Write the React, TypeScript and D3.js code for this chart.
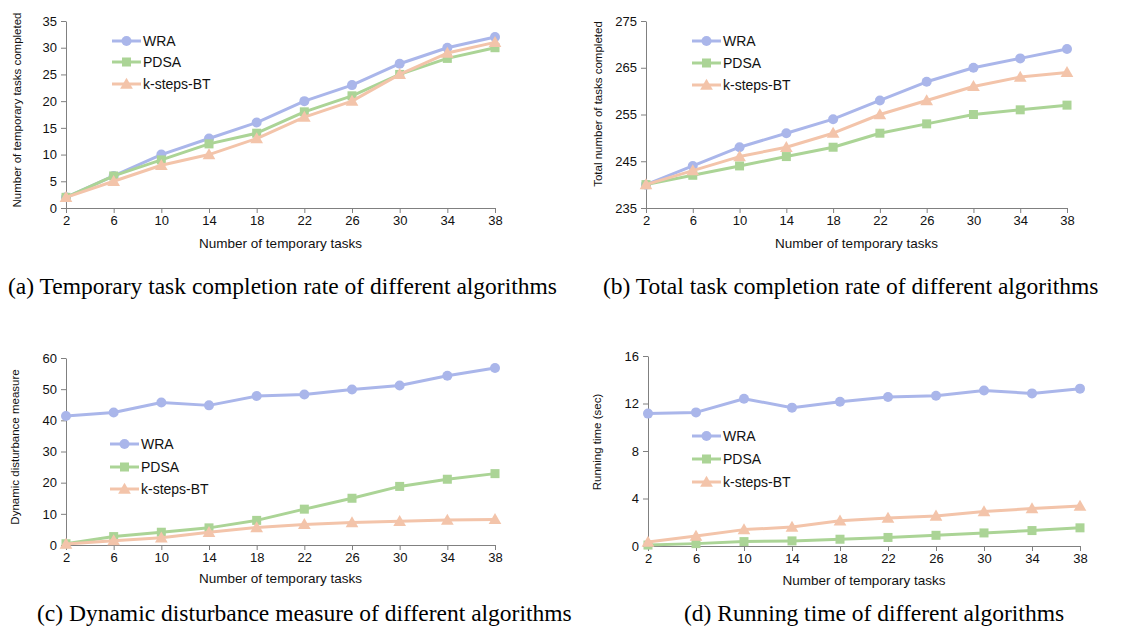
import React, { useEffect, useRef } from "react";
import * as d3 from "d3";

// x categories shared by all four panels
const taskCounts = [2, 6, 10, 14, 18, 22, 26, 30, 34, 38];
const algorithms = ["WRA", "PDSA", "k-steps-BT"];

// (a) temporary tasks completed
const tempDoneWRA = [2, 6, 10, 13, 16, 20, 23, 27, 30, 32];
const tempDonePDSA = [2, 6, 9, 12, 14, 18, 21, 25, 28, 30];
const tempDoneKBT = [2, 5, 8, 10, 13, 17, 20, 25, 29, 31];

// (b) total tasks completed
const totalDoneWRA = [240, 244, 248, 251, 254, 258, 262, 265, 267, 269];
const totalDonePDSA = [240, 242, 244, 246, 248, 251, 253, 255, 256, 257];
const totalDoneKBT = [240, 243, 246, 248, 251, 255, 258, 261, 263, 264];

// (c) dynamic disturbance measure
const disturbWRA = [41.4, 42.5, 45.7, 44.8, 47.8, 48.3, 49.9, 51.2, 54.3, 56.8];
const disturbPDSA = [0.4, 2.7, 4.1, 5.5, 7.9, 11.5, 15.0, 18.8, 21.1, 22.9];
const disturbKBT = [0.3, 1.4, 2.3, 4.1, 5.6, 6.6, 7.2, 7.6, 8.0, 8.2];

// (d) running time (sec)
const runWRA = [11.15, 11.25, 12.4, 11.65, 12.15, 12.55, 12.65, 13.1, 12.85, 13.25];
const runPDSA = [0.08, 0.2, 0.37, 0.43, 0.57, 0.72, 0.9, 1.1, 1.3, 1.53];
const runKBT = [0.33, 0.84, 1.38, 1.6, 2.12, 2.36, 2.53, 2.9, 3.15, 3.36];

const captions = [
  "(a) Temporary task completion rate of different algorithms",
  "(b) Total task completion rate of different algorithms",
  "(c) Dynamic disturbance measure of different algorithms",
  "(d) Running time of different algorithms",
];
const yTitles = [
  "Number of temporary tasks completed",
  "Total number of tasks completed",
  "Dynamic disturbance measure",
  "Running time (sec)",
];
const xTitle = "Number of temporary tasks";

const colors = { WRA: "#aab6ea", PDSA: "#abd496", "k-steps-BT": "#f3c4aa" };
const sans = "'Liberation Sans', Arial, sans-serif";
const serif = "'Liberation Serif', 'Times New Roman', serif";

const App = () => {
  const svgRef = useRef<SVGSVGElement>(null);

  useEffect(() => {
    const svg = d3.select(svgRef.current);
    svg.selectAll("*").remove();

    const panels = [
      {
        series: [tempDoneWRA, tempDonePDSA, tempDoneKBT],
        x: [66, 495], y: [208, 21], domain: [0, 35], step: 5,
        legend: { x: 112, rows: [41, 62, 84] },
        yTitle: { x: 17, y: 110 }, xTitleY: 248, caption: { x: 8, y: 294 },
      },
      {
        series: [totalDoneWRA, totalDonePDSA, totalDoneKBT],
        x: [646, 1067], y: [208, 21], domain: [235, 275], step: 10,
        legend: { x: 692, rows: [41, 63, 85] },
        yTitle: { x: 598, y: 104 }, xTitleY: 248, caption: { x: 603, y: 294 },
      },
      {
        series: [disturbWRA, disturbPDSA, disturbKBT],
        x: [66, 495], y: [545, 358], domain: [0, 60], step: 10,
        legend: { x: 110, rows: [444, 467, 489] },
        yTitle: { x: 15, y: 447 }, xTitleY: 583, caption: { x: 37, y: 621 },
      },
      {
        series: [runWRA, runPDSA, runKBT],
        x: [648, 1080], y: [546, 356], domain: [0, 16], step: 4,
        legend: { x: 692, rows: [436, 459, 482] },
        yTitle: { x: 597, y: 442 }, xTitleY: 585, caption: { x: 684, y: 621 },
      },
    ];

    const drawMarker = (g, name, cx, cy) => {
      const c = colors[name];
      if (name === "WRA") {
        g.append("circle").attr("cx", cx).attr("cy", cy).attr("r", 5).attr("fill", c);
      } else if (name === "PDSA") {
        g.append("rect").attr("x", cx - 4.5).attr("y", cy - 4.5)
          .attr("width", 9).attr("height", 9).attr("fill", c);
      } else {
        g.append("path")
          .attr("d", d3.symbol(d3.symbolTriangle, 70)())
          .attr("transform", `translate(${cx},${cy + 1})`)
          .attr("fill", c);
      }
    };

    panels.forEach((p, pi) => {
      const g = svg.append("g");
      const xScale = d3.scalePoint().domain(taskCounts.map(String)).range(p.x).padding(0);
      const yScale = d3.scaleLinear().domain(p.domain).range(p.y);
      const yTicks = d3.range(p.domain[0], p.domain[1] + 0.001, p.step);

      // axes
      const yAxis = g.append("g")
        .attr("transform", `translate(${p.x[0]},0)`)
        .call(d3.axisLeft(yScale).tickValues(yTicks).tickSize(5).tickPadding(4).tickSizeOuter(0));
      const xAxis = g.append("g")
        .attr("transform", `translate(0,${p.y[0]})`)
        .call(d3.axisBottom(xScale).tickSize(5).tickPadding(3).tickSizeOuter(0));
      [yAxis, xAxis].forEach((ax) => {
        ax.select(".domain").attr("stroke", "#808080");
        ax.selectAll(".tick line").attr("stroke", "#808080");
        ax.selectAll("text").attr("fill", "#111").style("font-family", sans).style("font-size", "13px");
      });

      // lines + markers
      const line = d3.line<number>()
        .x((d, i) => xScale(String(taskCounts[i])))
        .y((d) => yScale(d));
      p.series.forEach((vals, si) => {
        const name = algorithms[si];
        g.append("path").attr("d", line(vals)).attr("fill", "none")
          .attr("stroke", colors[name]).attr("stroke-width", 3).attr("stroke-linejoin", "round");
        vals.forEach((v, i) => drawMarker(g, name, xScale(String(taskCounts[i])), yScale(v)));
      });

      // legend
      algorithms.forEach((name, i) => {
        const ly = p.legend.rows[i];
        g.append("line").attr("x1", p.legend.x).attr("x2", p.legend.x + 29)
          .attr("y1", ly).attr("y2", ly).attr("stroke", colors[name]).attr("stroke-width", 3);
        drawMarker(g, name, p.legend.x + 14.5, ly);
        g.append("text").attr("x", p.legend.x + 31).attr("y", ly + 5)
          .style("font-family", sans).style("font-size", "14px").attr("fill", "#111").text(name);
      });

      // titles
      g.append("text").attr("x", (p.x[0] + p.x[1]) / 2).attr("y", p.xTitleY)
        .attr("text-anchor", "middle").style("font-family", sans).style("font-size", "13.5px")
        .attr("fill", "#111").text(xTitle);
      g.append("text")
        .attr("transform", `translate(${p.yTitle.x},${p.yTitle.y}) rotate(-90)`)
        .attr("text-anchor", "middle").attr("dy", "0.35em")
        .style("font-family", sans).style("font-size", "11.5px").attr("fill", "#111")
        .text(yTitles[pi]);

      g.append("text").attr("x", p.caption.x).attr("y", p.caption.y)
        .style("font-family", serif).style("font-size", "23.5px").attr("fill", "#000")
        .text(captions[pi]);
    });
  }, []);

  return (
    <svg
      ref={svgRef}
      width={1132}
      height={630}
      style={{ position: "absolute", left: 0, top: 0, background: "#fff" }}
    ></svg>
  );
};

export default App;
